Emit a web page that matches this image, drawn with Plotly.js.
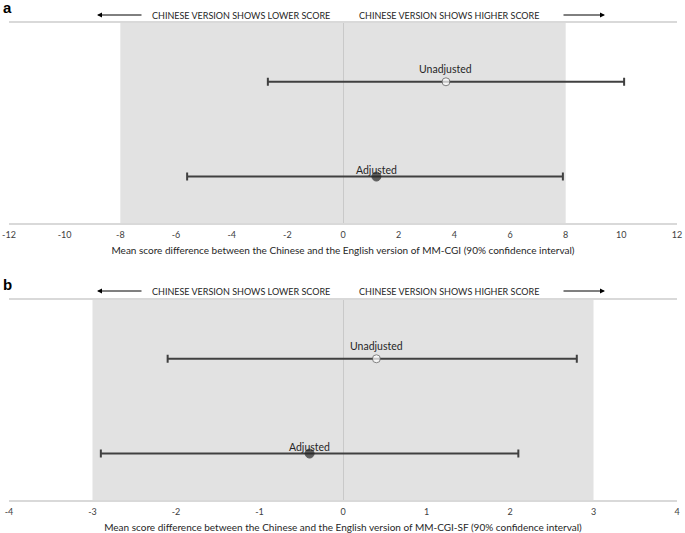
<!DOCTYPE html>
<html>
<head>
<meta charset="utf-8">
<script src="https://cdn.plot.ly/plotly-3.0.1.min.js"></script>
<style>html,body{margin:0;padding:0;background:#fff}#chart{width:685px;height:533px}</style>
</head>
<body>
<div id="chart"></div>
<script>
// ---- data ----
const estimates = ["Adjusted", "Unadjusted"];
// Panel a: MM-CGI
const cgiMean  = [1.2, 3.7];
const cgiLower = [-5.6, -2.7];
const cgiUpper = [7.9, 10.1];
const cgiMargin = [-8, 8];
const cgiTicks = [-12, -10, -8, -6, -4, -2, 0, 2, 4, 6, 8, 10, 12];
// Panel b: MM-CGI-SF
const sfMean  = [-0.4, 0.4];
const sfLower = [-2.9, -2.1];
const sfUpper = [2.1, 2.8];
const sfMargin = [-3, 3];
const sfTicks = [-4, -3, -2, -1, 0, 1, 2, 3, 4];

const titleA = "Mean score difference between the Chinese and the English version of MM-CGI (90% confidence interval)";
const titleB = "Mean score difference between the Chinese and the English version of MM-CGI-SF (90% confidence interval)";
const lowerText = "CHINESE VERSION SHOWS LOWER SCORE";
const higherText = "CHINESE VERSION SHOWS HIGHER SCORE";

// ---- styling ----
const FONT = "Lato, 'Open Sans', sans-serif";
const dark = "#404040";
const labelShift = [7, 13];

function traces(mean, lower, upper, xa, ya) {
  const plus = mean.map((m, i) => upper[i] - m);
  const minus = mean.map((m, i) => m - lower[i]);
  return [{
    type: "scatter", mode: "markers",
    x: mean, y: estimates, xaxis: xa, yaxis: ya,
    error_x: {type: "data", symmetric: false, array: plus, arrayminus: minus,
              color: dark, thickness: 2, width: 4},
    marker: {
      size: [9, 8],
      color: ["#262626", "#ffffff"],
      line: {color: ["#262626", "#595959"], width: 1}
    },
    hoverinfo: "x+y", showlegend: false, cliponaxis: false
  }];
}
function labels(mean, xr, yr) {
  return mean.map((m, i) => ({
    xref: xr, yref: yr, x: m, y: estimates[i], text: estimates[i], showarrow: false,
    yshift: labelShift[i], yanchor: "middle", xanchor: "center",
    font: {family: FONT, size: 10.5, color: "#262626"}
  }));
}

const data = [
  ...traces(cgiMean, cgiLower, cgiUpper, "x", "y"),
  ...traces(sfMean, sfLower, sfUpper, "x2", "y2")
];

const H = 533;
const py = p => 1 - p / H;

function xax(ticks, title) {
  return {
    domain: [0, 1],
    range: [ticks[0], ticks[ticks.length - 1]],
    tickvals: ticks, ticktext: ticks.map(String),
    ticks: "", showgrid: false, ticklabelstandoff: 2,
    zeroline: true, zerolinecolor: "#c9c9c9", zerolinewidth: 1,
    showline: true, linecolor: "#d9d9d9", linewidth: 2, mirror: true,
    tickfont: {family: FONT, size: 9, color: "#404040"},
    title: {text: title, font: {family: FONT, size: 10, color: "#262626"}, standoff: 8},
    fixedrange: true
  };
}
function yax(domain) {
  return {
    domain: domain, type: "category", categoryorder: "array", categoryarray: estimates,
    range: [-0.49, 1.62], showticklabels: false, ticks: "", showgrid: false,
    zeroline: false, showline: false, fixedrange: true
  };
}

function band(margin, xr, yr) {
  return {type: "rect", xref: xr, yref: yr + " domain", x0: margin[0], x1: margin[1], y0: 0, y1: 1,
          fillcolor: "#e2e2e2", line: {width: 0}, layer: "below"};
}

function header(yp) {
  return [
    {xref: "paper", yref: "paper", x: (240.5 - 9) / 668, y: yp, xanchor: "center", yanchor: "middle",
     text: lowerText, showarrow: false, font: {family: FONT, size: 9, color: "#262626"}},
    {xref: "paper", yref: "paper", x: (449 - 9) / 668, y: yp, xanchor: "center", yanchor: "middle",
     text: higherText, showarrow: false, font: {family: FONT, size: 9, color: "#262626"}},
    {xref: "paper", yref: "paper", x: (97 - 9) / 668, y: yp, text: "", showarrow: true,
     axref: "pixel", ayref: "pixel", ax: 46, ay: 0, arrowhead: 2, arrowsize: 1, arrowwidth: 1, arrowcolor: "#000"},
    {xref: "paper", yref: "paper", x: (605 - 9) / 668, y: yp, text: "", showarrow: true,
     axref: "pixel", ayref: "pixel", ax: -43, ay: 0, arrowhead: 2, arrowsize: 1, arrowwidth: 1, arrowcolor: "#000"}
  ];
}

const layout = {
  width: 685, height: 533,
  margin: {l: 9, r: 8, t: 0, b: 0},
  paper_bgcolor: "#ffffff", plot_bgcolor: "rgba(0,0,0,0)",
  font: {family: FONT},
  xaxis: Object.assign(xax(cgiTicks, titleA), {anchor: "y"}),
  yaxis: Object.assign(yax([py(223), py(23)]), {anchor: "x"}),
  xaxis2: Object.assign(xax(sfTicks, titleB), {anchor: "y2"}),
  yaxis2: Object.assign(yax([py(500), py(300)]), {anchor: "x2"}),
  shapes: [band(cgiMargin, "x", "y"), band(sfMargin, "x2", "y2")],
  annotations: [
    {xref: "paper", yref: "paper", x: -0.012, y: py(8), xanchor: "left", yanchor: "middle",
     text: "<b>a</b>", showarrow: false, font: {family: "Liberation Sans, Arial, sans-serif", size: 15, color: "#000"}},
    {xref: "paper", yref: "paper", x: -0.012, y: py(284), xanchor: "left", yanchor: "middle",
     text: "<b>b</b>", showarrow: false, font: {family: "Liberation Sans, Arial, sans-serif", size: 15, color: "#000"}},
    ...header(py(15)),
    ...header(py(291)),
    ...labels(cgiMean, "x", "y"),
    ...labels(sfMean, "x2", "y2")
  ]
};

Plotly.newPlot("chart", data, layout, {displayModeBar: false, staticPlot: true});
</script>
</body>
</html>
